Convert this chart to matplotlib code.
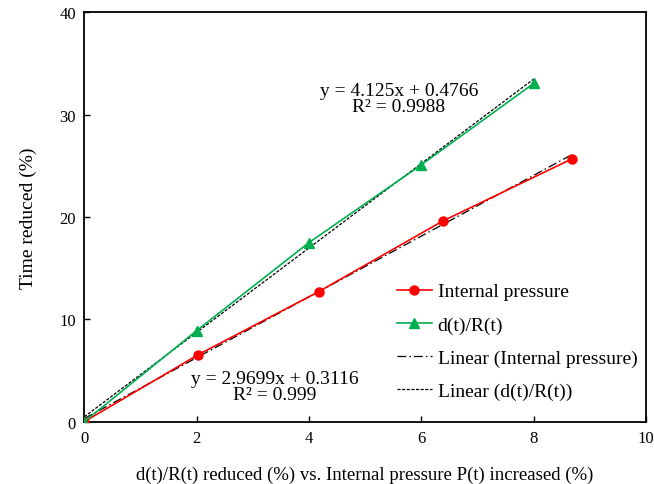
import matplotlib
matplotlib.use("Agg")
import matplotlib.pyplot as plt
import numpy as np

plt.rcParams["font.family"] = ["Liberation Serif", "DejaVu Serif"]
plt.rcParams["font.size"] = 12

# Internal pressure series
pressure_x = [0, 2.03, 4.17, 6.38, 8.69]
pressure_y = [0, 6.55, 12.7, 19.6, 25.7]

# d(t)/R(t) series
ratio_x = [0, 2, 4, 6, 8]
ratio_y = [0, 8.9, 17.5, 25.1, 33.05]

# trendline coefficients (slope, intercept) as printed on the chart
pressure_fit = [2.9699, 0.3116]
ratio_fit = [4.125, 0.4766]
pressure_r2 = "0.999"
ratio_r2 = "0.9988"

fig = plt.figure(figsize=(6.54, 4.85), dpi=100)
ax = fig.add_axes([84.3 / 654, 1 - 422.7 / 485, (646 - 84.3) / 654, (422.7 - 13.3) / 485])

ax.plot(pressure_x, pressure_y, color="#ff0000", marker="o", markersize=6.5,
        linewidth=1.2, label="Internal pressure", zorder=3)
ax.plot(ratio_x, ratio_y, color="#00b050", marker="^", markersize=6.5,
        linewidth=1.2, label="d(t)/R(t)", zorder=3)

px = np.array([0, max(pressure_x)])
ax.plot(px, np.polyval(pressure_fit, px), color="black", linestyle=(0, (7, 2.5, 1.2, 2.5)),
        linewidth=0.9, label="Linear (Internal pressure)", zorder=2)
rx = np.array([0, max(ratio_x)])
ax.plot(rx, np.polyval(ratio_fit, rx), color="black", linestyle=(0, (2.5, 1.2)),
        linewidth=0.9, label="Linear (d(t)/R(t))", zorder=2)

ax.text(5.6, 31.6, f"y = {ratio_fit[0]}x + {ratio_fit[1]}\nR² = {ratio_r2}",
        ha="center", va="center", fontsize=14, linespacing=0.92)
ax.text(3.395, 3.4, f"y = {pressure_fit[0]}x + {pressure_fit[1]}\nR² = {pressure_r2}",
        ha="center", va="center", fontsize=14, linespacing=0.92)

ax.set_xlim(0, 10)
ax.set_ylim(0, 40)
ax.set_xticks([0, 2, 4, 6, 8, 10])
ax.set_yticks([0, 10, 20, 30, 40])
ax.tick_params(direction="in", length=4, width=1, labelsize=12, pad=6)
for s in ax.spines.values():
    s.set_linewidth(1.3)

ax.set_xlabel("d(t)/R(t) reduced (%) vs. Internal pressure P(t) increased (%)", fontsize=13.5)
ax.xaxis.set_label_coords(0.5, -(467 - 422.7) / (422.7 - 13.3), transform=ax.transAxes)
ax.set_ylabel("Time reduced (%)", fontsize=14)
ax.yaxis.set_label_coords(-(84.3 - 37) / (646 - 84.3), 0.5, transform=ax.transAxes)

ax.legend(loc="upper left", bbox_to_anchor=((397 - 84.3) / 561.7 - 0.014, 1 - (276 - 13.3) / 409.4),
          frameon=False, fontsize=14, handlelength=1.8, handletextpad=0.3,
          labelspacing=0.8, borderaxespad=0)

fig.savefig("out.png", dpi=100)
